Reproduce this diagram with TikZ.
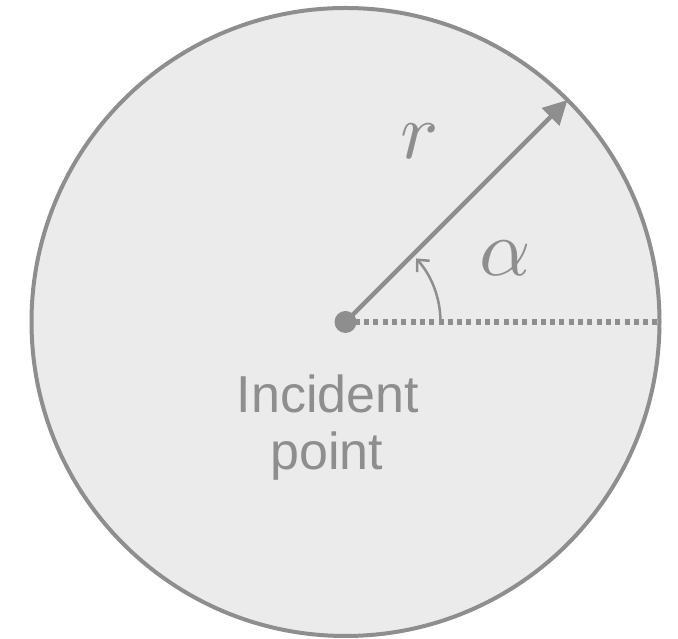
\documentclass[tikz,border=0pt]{standalone}
\usepackage{fontspec}
\setmainfont{Liberation Sans}
\usetikzlibrary{arrows.meta}
\definecolor{discfill}{RGB}{235,235,235}
\definecolor{ink}{RGB}{142,142,142}
\begin{document}
\begin{tikzpicture}[x=1pt,y=1pt,
  disc/.style={circle, draw=ink, fill=discfill, line width=4pt, minimum size=628pt, inner sep=0pt, outer sep=0pt},
  radline/.style={draw=ink, line width=4.5pt, -{Triangle[length=24pt,width=24pt]}},
  dotline/.style={draw=ink, line width=5.5pt, dash pattern=on 5pt off 4.3pt},
  centredot/.style={circle, fill=ink, minimum size=22pt, inner sep=0pt},
  anglearc/.style={draw=ink, line width=2.5pt, -{Straight Barb[length=9pt,width=17pt]}},
  mathlabel/.style={text=ink, font=\fontsize{10}{10}\selectfont, scale=8, inner sep=0pt},
  caption/.style={text=ink, font=\fontsize{52}{57}\selectfont, inner sep=0pt, anchor=base}]
\useasboundingbox (0,0) rectangle (678,639);
\node[disc] (d) at (345.5,317) {};
\coordinate (c) at (345.5,317);
\draw[dotline] (c) -- (d.east);
\draw[radline] (c) -- (d.45);
\draw[anglearc] (c) ++(0:95) arc[start angle=0, end angle=42, radius=95];
\node[centredot] (o) at (c) {};
\node[mathlabel] (r) at (420,498) {$r$};
\node[mathlabel] (a) at (505,381) {$\alpha$};
\node[caption] (l1) at (328,226) {Incident};
\node[caption] (l2) at (327,169) {point};
\end{tikzpicture}
\end{document}
